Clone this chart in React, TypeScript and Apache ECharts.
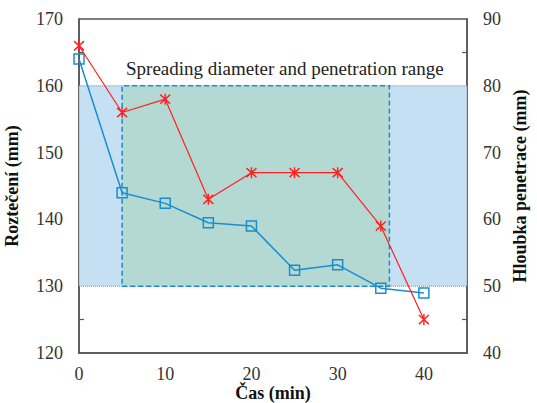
import React, { useEffect, useRef } from "react";
import * as echarts from "echarts";

const times = [0, 5, 10, 15, 20, 25, 30, 35, 40];
const spreadDiameter = [164, 144, 142.4, 139.5, 139, 132.4, 133.2, 129.7, 129];
const penetrationDepth = [86, 76, 78, 63, 67, 67, 67, 59, 45];
const leftTicks = [125, 135, 145, 155, 165];
const rightTicks = [45, 55, 65, 75, 85];
const bandRange = [130, 160];
const boxRangeX = [5, 36];
const xRange = [0, 45];

const BLUE = "#1a8dd0";
const RED = "#ff2020";
const SERIF = "Times New Roman, Liberation Serif, serif";

export default function App() {
  const ref = useRef<HTMLDivElement>(null);
  useEffect(() => {
    if (!ref.current) return;
    const chart = echarts.init(ref.current, undefined, { renderer: "svg" });
    const blueData = times.map((t, i) => [t, spreadDiameter[i]]);
    const redData = times.map((t, i) => [t, penetrationDepth[i]]);
    const yAxisCommon = {
      type: "value",
      interval: 10,
      nameLocation: "middle",
      nameRotate: 90,
      nameMoveOverlap: false,
      nameTextStyle: { fontFamily: SERIF, fontWeight: "bold", fontSize: 18, color: "#111" },
      axisLine: { show: true, lineStyle: { color: "#555", width: 1.5 } },
      splitLine: { show: false },
      axisLabel: { fontFamily: SERIF, fontSize: 18, color: "#333", margin: 16 },
    };
    chart.setOption({
      animation: false,
      backgroundColor: "#ffffff",
      textStyle: { fontFamily: SERIF },
      grid: {
        left: 79,
        right: 70,
        top: 19,
        bottom: 50,
        outerBoundsMode: "none",
        containLabel: false,
        show: true,
        borderColor: "#555",
        borderWidth: 1.5,
        backgroundColor: "transparent",
      },
      xAxis: {
        type: "value",
        min: xRange[0],
        max: xRange[1],
        interval: 10,
        name: "Čas (min)",
        nameLocation: "middle",
        nameGap: 31,
        nameMoveOverlap: false,
        nameTextStyle: { fontFamily: SERIF, fontWeight: "bold", fontSize: 18, color: "#111" },
        axisLine: { show: true, lineStyle: { color: "#555", width: 1.5 } },
        axisTick: { show: false },
        splitLine: { show: false },
        axisLabel: {
          fontFamily: SERIF,
          fontSize: 18,
          color: "#333",
          margin: 12,
          showMaxLabel: false,
          formatter: (v: number) => (v % 10 === 0 ? String(v) : ""),
        },
      },
      yAxis: [
        {
          ...yAxisCommon,
          min: 120,
          max: 170,
          position: "left",
          name: "Roztečení (mm)",
          nameGap: 58,
          axisTick: {
            show: true,
            inside: true,
            length: 5,
            customValues: leftTicks,
            lineStyle: { color: "#555", width: 1.2 },
          },
        },
        {
          ...yAxisCommon,
          min: 40,
          max: 90,
          position: "right",
          name: "Hloubka penetrace (mm)",
          nameGap: 44,
          axisTick: {
            show: true,
            inside: true,
            length: 5,
            customValues: rightTicks,
            lineStyle: { color: "#555", width: 1.2 },
          },
        },
      ],
      graphic: [
        {
          type: "text",
          left: 126,
          top: 59,
          style: {
            text: "Spreading diameter and penetration range",
            fontFamily: SERIF,
            fontSize: 19,
            fill: "#222",
          },
        },
      ],
      series: [
        {
          type: "line",
          yAxisIndex: 0,
          data: blueData,
          symbol: "rect",
          symbolSize: 10,
          lineStyle: { color: BLUE, width: 1.5 },
          itemStyle: { color: "rgba(0,0,0,0)", borderColor: BLUE, borderWidth: 1.5 },
          z: 3,
          markArea: {
            silent: true,
            data: [
              [
                {
                  xAxis: xRange[0],
                  yAxis: bandRange[0],
                  itemStyle: { color: "#c5e0f3", borderColor: "#888", borderWidth: 1, borderType: "dotted" },
                },
                { xAxis: xRange[1], yAxis: bandRange[1] },
              ],
              [
                {
                  xAxis: boxRangeX[0],
                  yAxis: bandRange[0],
                  itemStyle: { color: "#b4d9d3", borderColor: BLUE, borderWidth: 1.5, borderType: [5, 3] },
                },
                { xAxis: boxRangeX[1], yAxis: bandRange[1] },
              ],
            ],
          },
        },
        {
          type: "line",
          yAxisIndex: 1,
          data: redData,
          symbol: "path://M-5,-5L5,5M5,-5L-5,5M0,-6L0,6",
          symbolSize: [10, 11],
          lineStyle: { color: RED, width: 1.2 },
          itemStyle: { color: RED, borderColor: RED, borderWidth: 1.5 },
          z: 4,
        },
      ],
    });
    return () => chart.dispose();
  }, []);
  return (
    <div
      ref={ref}
      style={{ position: "fixed", left: 0, top: 0, width: 537, height: 403 }}
    />
  );
}
